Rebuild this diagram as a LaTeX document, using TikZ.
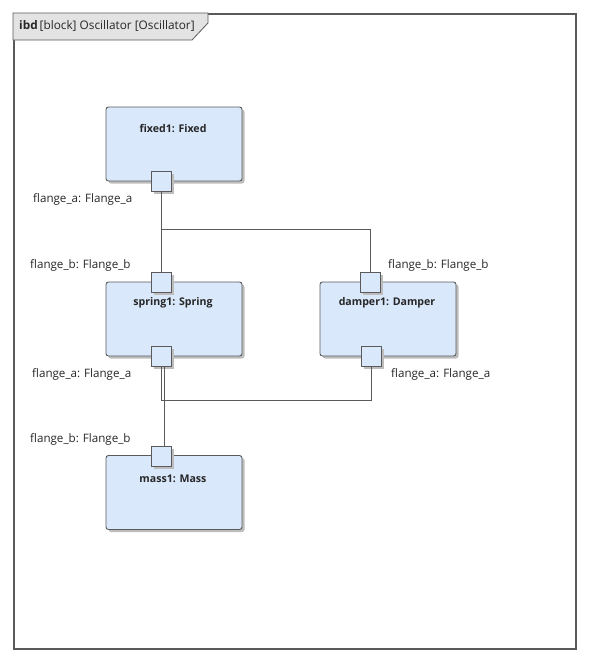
\documentclass[tikz,border=0pt]{standalone}
\usepackage{fontspec}
\setmainfont{Open Sans}
\usetikzlibrary{shadows}
\definecolor{blockfill}{HTML}{DAE8FC}
\definecolor{edge}{HTML}{5A5A5A}
\definecolor{tabfill}{HTML}{E3E3E3}
\definecolor{shade}{HTML}{BDBDBD}
\tikzset{
  blockbox/.style={draw=edge, fill=blockfill, line width=0.9pt, rounded corners=2.5pt,
    minimum width=136pt, minimum height=74pt, inner sep=0pt,
    drop shadow={shadow xshift=2.5pt, shadow yshift=-2.5pt, fill=shade, opacity=1}},
  portbox/.style={draw=edge, fill=blockfill, line width=0.9pt,
    minimum width=20pt, minimum height=20pt, inner sep=0pt,
    drop shadow={shadow xshift=2.5pt, shadow yshift=-2.5pt, fill=shade, opacity=1}},
  title/.style={font=\fontsize{10.6}{12}\selectfont\bfseries, text=black!85, inner sep=0pt},
  plabel/.style={font=\fontsize{11.6}{13}\selectfont, text=black!85, anchor=west, inner sep=0pt},
  conn/.style={draw=edge, line width=0.8pt},
}
\begin{document}
\begin{tikzpicture}[x=1pt,y=-1pt]
\useasboundingbox (0,0) rectangle (591,665);
% frame
\node[draw=edge, line width=1.6pt, minimum width=562pt, minimum height=635pt, inner sep=0pt, anchor=north west] (frame) at (13,13) {};
\draw[draw=edge, line width=0.8pt, fill=tabfill] (13,13) -- (208,13) -- (208,23) -- (192,40) -- (13,40) -- cycle;
\node[anchor=west, inner sep=0pt, font=\fontsize{11.8}{13}\selectfont, text=black!85] (hdr) at (19,26) {\textbf{ibd}\,[block] Oscillator [Oscillator]};

% blocks
\node[blockbox] (fixed) at (174,144) {};
\node[blockbox] (spring) at (174,319) {};
\node[blockbox] (damper) at (388,319) {};
\node[blockbox] (mass) at (174,492.5) {};

\node[title] (tfixed) at (173,129) {fixed1: Fixed};
\node[title] (tspring) at (173,303) {spring1: Spring};
\node[title] (tdamper) at (387,303) {damper1: Damper};
\node[title] (tmass) at (173,479) {mass1: Mass};

% connector corners
\coordinate (jt) at (161,229);
\coordinate (jtr) at (370,229);
\coordinate (jb) at (161,400);
\coordinate (jbr) at (371,400);

% ports
\node[portbox] (fa) at (161,181.5) {};
\node[portbox] (sb) at (161,282.5) {};
\node[portbox] (sa) at (161,356) {};
\node[portbox] (db) at (370,282.5) {};
\node[portbox] (da) at (371,356) {};
\node[portbox] (mb) at (161,456.5) {};

\draw[conn] (fa.south) -- (sb.north);
\draw[conn] (jt) -- (jtr) -- (db.north);
\draw[conn] (sa.south) -- (jb) -- (jbr) -- (da.south);
\draw[conn] ([xshift=3pt]sa.south) -- ([xshift=3pt]mb.north);

% port labels
\node[plabel] (lfa) at (33,199) {flange\_a: Flange\_a};
\node[plabel] (lsb) at (30,265) {flange\_b: Flange\_b};
\node[plabel] (lsa) at (32,374) {flange\_a: Flange\_a};
\node[plabel] (ldb) at (388,265) {flange\_b: Flange\_b};
\node[plabel] (lda) at (391,374) {flange\_a: Flange\_a};
\node[plabel] (lmb) at (30,439) {flange\_b: Flange\_b};
\end{tikzpicture}
\end{document}
